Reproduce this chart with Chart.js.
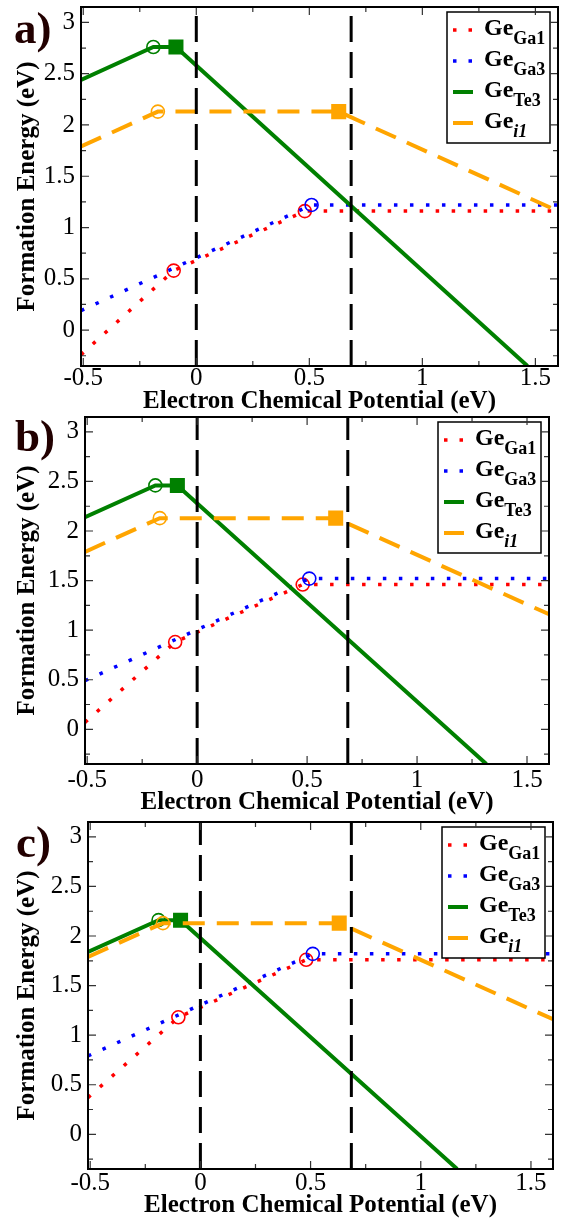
<!DOCTYPE html>
<html>
<head>
<meta charset="utf-8">
<script src="https://cdn.jsdelivr.net/npm/chart.js@4.4.1/dist/chart.umd.min.js"></script>
<style>
  html, body { margin: 0; padding: 0; background: #fff; }
  #wrap { position: relative; width: 566px; height: 1218px; overflow: hidden; }
  canvas { position: absolute; left: 0; }
  .lbl { position: absolute; font: bold 45px "Liberation Serif", serif; line-height: 45px; color: #200; }
</style>
</head>
<body>
<div id="wrap">
  <canvas id="chartA" width="566" height="414" style="top:0px"></canvas>
  <canvas id="chartB" width="566" height="404" style="top:414px"></canvas>
  <canvas id="chartC" width="566" height="400" style="top:818px"></canvas>
  <div class="lbl" style="left:14px;top:6px">a)</div>
  <div class="lbl" style="left:15px;top:414px">b)</div>
  <div class="lbl" style="left:16px;top:820px">c)</div>
</div>
<script>
// axis ranges (eV)
const xRange = [-0.51, 1.6];
const yRange = [-0.35, 3.15];
// labelled ticks
const xTicks = [-0.5, 0, 0.5, 1, 1.5];
const yTicks = [0, 0.5, 1, 1.5, 2, 2.5, 3];
// band edges: VBM and CBM
const bandEdges = [0, 0.685];

// Ge_Ga1 (red)
const ga1X = [-0.51, -0.1, 0.48, 1.6];
const ga1A = [-0.24, 0.58, 1.16, 1.16];
const ga1B = [0.07, 0.88, 1.46, 1.46];
const ga1C = [0.37, 1.18, 1.76, 1.76];
const ga1Marks = ['', 'o', 'o', ''];

// Ge_Ga3 (blue)
const ga3X = [-0.51, 0.51, 1.6];
const ga3A = [0.19, 1.22, 1.22];
const ga3B = [0.49, 1.52, 1.52];
const ga3C = [0.79, 1.82, 1.82];
const ga3Marks = ['', 'o', ''];

// Ge_Te3 (green)
const te3XA = [-0.51, -0.19, -0.09, 1.465];
const te3XB = [-0.51, -0.19, -0.09, 1.315];
const te3XC = [-0.51, -0.19, -0.09, 1.165];
const te3A = [2.44, 2.76, 2.76, -0.35];
const te3B = [2.14, 2.46, 2.46, -0.35];
const te3C = [1.84, 2.16, 2.16, -0.35];
const te3Marks = ['', 'o', 's', ''];

// Ge_i1 (orange)
const i1X = [-0.51, -0.17, 0.63, 1.6];
const i1A = [1.79, 2.13, 2.13, 1.16];
const i1B = [1.79, 2.13, 2.13, 1.16];
const i1C = [1.79, 2.13, 2.13, 1.16];
const i1Marks = ['', 'o', 's', ''];

const legendSubs = ['Ga1', 'Ga3', 'Te3', 'i1'];

const RED = '#ff0000', BLUE = '#0000ff', GREEN = '#008000', ORANGE = '#ffa500';
const FONT = '"Liberation Serif", serif';

Chart.defaults.font.family = FONT;
Chart.defaults.color = '#000';

function series(xs, ys, color, width, dash, marks) {
    return {
        data: xs.map((x, i) => ({ x: x, y: ys[i] })),
        showLine: true,
        borderColor: color,
        borderWidth: width,
        borderDash: dash,
        borderCapStyle: 'butt',
        pointRadius: marks.map(m => m === 'o' ? 6.5 : (m === 's' ? 9.5 : 0)),
        pointStyle: marks.map(m => m === 's' ? 'rect' : 'circle'),
        pointBackgroundColor: marks.map(m => m === 's' ? color : 'rgba(0,0,0,0)'),
        pointBorderColor: color,
        pointBorderWidth: 1.6,
        tension: 0
    };
}

function vline(x) {
    return {
        data: [{ x: x, y: yRange[0] }, { x: x, y: yRange[1] }],
        showLine: true,
        borderColor: '#000',
        borderWidth: 3,
        borderDash: [26, 10],
        pointRadius: 0
    };
}

// inward ticks on all four sides + frame
const frameTicks = {
    id: 'frameTicks',
    afterDatasetsDraw(chart) {
        const { ctx, chartArea: a, scales: { x, y } } = chart;
        ctx.save();
        ctx.strokeStyle = '#333';
        ctx.lineWidth = 1.2;
        ctx.beginPath();
        for (let k = -2; k <= 6; k++) {
            const v = k * 0.25;
            if (v < x.min || v > x.max) continue;
            const px = x.getPixelForValue(v);
            const len = k % 2 === 0 ? 8 : 5;
            ctx.moveTo(px, a.bottom); ctx.lineTo(px, a.bottom - len);
            ctx.moveTo(px, a.top); ctx.lineTo(px, a.top + len);
        }
        for (let k = -1; k <= 12; k++) {
            const v = k * 0.25;
            if (v < y.min || v > y.max) continue;
            const py = y.getPixelForValue(v);
            const len = k % 2 === 0 ? 8 : 5;
            ctx.moveTo(a.left, py); ctx.lineTo(a.left + len, py);
            ctx.moveTo(a.right, py); ctx.lineTo(a.right - len, py);
        }
        ctx.stroke();
        ctx.strokeStyle = '#000';
        ctx.lineWidth = 2;
        ctx.strokeRect(a.left, a.top, a.right - a.left, a.bottom - a.top);
        ctx.restore();
    }
};

// legend with subscripts
const subLegend = {
    id: 'subLegend',
    afterDatasetsDraw(chart) {
        const { ctx, chartArea: a } = chart;
        const w = 103, h = 131;
        const bx = a.right - 8 - w, by = a.top + 5;
        ctx.save();
        ctx.fillStyle = '#fff';
        ctx.fillRect(bx, by, w, h);
        ctx.strokeStyle = '#000';
        ctx.lineWidth = 1.5;
        ctx.strokeRect(bx, by, w, h);
        const samples = [
            { c: RED, lw: 3.5, dash: [3.5, 12] },
            { c: BLUE, lw: 3.5, dash: [3.5, 12] },
            { c: GREEN, lw: 4, dash: [] },
            { c: ORANGE, lw: 4, dash: [] }
        ];
        samples.forEach((s, i) => {
            const ry = by + 18 + i * 31;
            ctx.beginPath();
            ctx.setLineDash(s.dash);
            ctx.strokeStyle = s.c;
            ctx.lineWidth = s.lw;
            ctx.moveTo(bx + 6, ry);
            ctx.lineTo(bx + 26, ry);
            ctx.stroke();
            ctx.setLineDash([]);
            ctx.fillStyle = '#000';
            ctx.textBaseline = 'alphabetic';
            ctx.font = 'bold 24px ' + FONT;
            const tx = bx + 37, ty = by + 23 + i * 31;
            ctx.fillText('Ge', tx, ty);
            const gw = ctx.measureText('Ge').width;
            ctx.font = (i === 3 ? 'italic bold ' : 'bold ') + '18px ' + FONT;
            ctx.fillText(legendSubs[i], tx + gw, ty + 9);
        });
        ctx.restore();
    }
};

function makeChart(p) {
    new Chart(document.getElementById(p.id), {
        type: 'scatter',
        data: {
            datasets: [
                vline(bandEdges[0]),
                vline(bandEdges[1]),
                series(i1X, p.i1, ORANGE, 4, [22, 12], i1Marks),
                series(p.te3x, p.te3, GREEN, 4, [], te3Marks),
                series(ga3X, p.ga3, BLUE, 3.5, [3.5, 12.5], ga3Marks),
                series(ga1X, p.ga1, RED, 3.5, [3.5, 12.5], ga1Marks)
            ]
        },
        options: {
            responsive: false,
            animation: false,
            events: [],
            layout: { padding: { top: p.top, right: p.right, left: 0, bottom: 0 } },
            plugins: { legend: { display: false }, tooltip: { enabled: false } },
            scales: {
                x: {
                    type: 'linear',
                    min: xRange[0],
                    max: xRange[1],
                    grid: { display: false, drawTicks: false },
                    border: { display: false },
                    afterBuildTicks(scale) { scale.ticks = xTicks.map(v => ({ value: v })); },
                    ticks: {
                        maxRotation: 0,
                        autoSkip: false,
                        padding: p.tickPad,
                        color: '#000',
                        font: { size: 25, lineHeight: 1 },
                        callback: v => String(v)
                    },
                    title: {
                        display: true,
                        text: 'Electron Chemical Potential (eV)',
                        color: '#000',
                        font: { size: 25, weight: 'bold', lineHeight: 1 },
                        padding: { top: 0, bottom: p.titlePad }
                    },
                    afterFit(scale) {
                        scale.height = p.xH;
                        scale.paddingLeft = 0;
                        scale.paddingRight = 0;
                    }
                },
                y: {
                    type: 'linear',
                    min: yRange[0],
                    max: yRange[1],
                    grid: { display: false, drawTicks: false },
                    border: { display: false },
                    afterBuildTicks(scale) { scale.ticks = yTicks.map(v => ({ value: v })); },
                    ticks: {
                        autoSkip: false,
                        padding: 6,
                        color: '#000',
                        font: { size: 25, lineHeight: 1 },
                        callback: v => String(v)
                    },
                    title: {
                        display: true,
                        text: 'Formation Energy (eV)',
                        color: '#000',
                        font: { size: 25, weight: 'bold', lineHeight: 1 },
                        padding: { top: 15, bottom: 0 }
                    },
                    afterFit(scale) {
                        scale.width = p.yW;
                        scale.paddingTop = 0;
                        scale.paddingBottom = 0;
                    }
                }
            }
        },
        plugins: [subLegend, frameTicks]
    });
}

makeChart({ id: 'chartA', top: 7, right: 8, yW: 81, xH: 48, tickPad: 0, titlePad: 0,
    ga1: ga1A, ga3: ga3A, te3x: te3XA, te3: te3A, i1: i1A });
makeChart({ id: 'chartB', top: 3, right: 17, yW: 85, xH: 54, tickPad: 4, titlePad: 3,
    ga1: ga1B, ga3: ga3B, te3x: te3XB, te3: te3B, i1: i1B });
makeChart({ id: 'chartC', top: 4, right: 13, yW: 88, xH: 49, tickPad: 2, titlePad: 0,
    ga1: ga1C, ga3: ga3C, te3x: te3XC, te3: te3C, i1: i1C });
</script>
</body>
</html>
